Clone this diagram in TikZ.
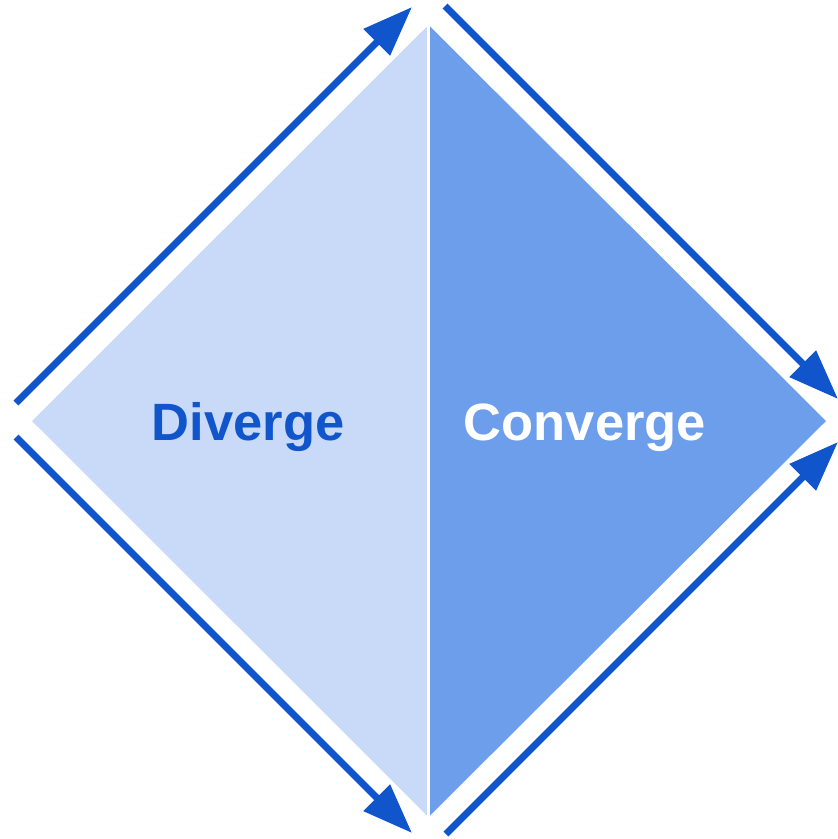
\documentclass[tikz,border=0pt]{standalone}
\usepackage{fontspec}
\setmainfont{Liberation Sans}
\usetikzlibrary{arrows.meta}
\definecolor{lightpane}{HTML}{C9DAF8}
\definecolor{darkpane}{HTML}{6D9EEB}
\definecolor{arrowblue}{HTML}{1155CC}
\tikzset{
  flow/.style={draw=arrowblue, line width=7pt, line cap=butt,
    -{Triangle[length=50pt,width=36pt]}},
  phase/.style={font=\fontsize{52.5}{60}\selectfont\bfseries, anchor=base, inner sep=0pt},
}
\begin{document}
\begin{tikzpicture}[x=1pt,y=-1pt]
\useasboundingbox (0,0) rectangle (838,839);
% diamond corners
\coordinate (L) at (32,421);
\coordinate (T) at (428.5,25);
\coordinate (R) at (826,421);
\coordinate (B) at (428.5,817);
% the two halves
\fill[lightpane] (L) -- (T) -- (B) -- cycle;
\fill[darkpane] (T) -- (R) -- (B) -- cycle;
\draw[white, line width=2.5pt] (T) -- (B);
% labels
\node[phase, text=arrowblue] (div) at (248,440) {Diverge};
\node[phase, text=white] (con) at (585,440) {Converge};
% arrow ends
\coordinate (a1s) at (16,403);
\coordinate (a1e) at (412,7);
\coordinate (a2s) at (445,6);
\coordinate (a2e) at (838,399);
\coordinate (a3s) at (16,437);
\coordinate (a3e) at (412,833);
\coordinate (a4s) at (446,834);
\coordinate (a4e) at (838,442);
\draw[flow] (a1s) -- (a1e);
\draw[flow] (a2s) -- (a2e);
\draw[flow] (a3s) -- (a3e);
\draw[flow] (a4s) -- (a4e);
\end{tikzpicture}
\end{document}
